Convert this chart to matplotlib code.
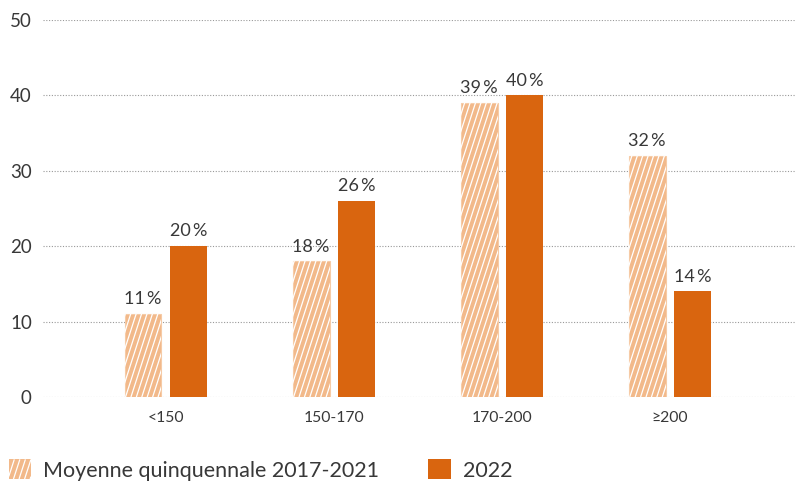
import matplotlib
matplotlib.use("Agg")
import matplotlib.pyplot as plt
import numpy as np
from matplotlib.patches import Rectangle, Patch
from matplotlib.collections import LineCollection
from matplotlib.legend_handler import HandlerBase

plt.rcParams['font.family'] = ['Lato', 'DejaVu Sans']

categories = ["<150", "150-170", "170-200", "≥200"]
moyenne = [11, 18, 39, 32]
v2022 = [20, 26, 40, 14]
labels_moy = ["11\u2009%", "18\u2009%", "39\u2009%", "32\u2009%"]
labels_2022 = ["20\u2009%", "26\u2009%", "40\u2009%", "14\u2009%"]
series_names = ["Moyenne quinquennale 2017-2021", "2022"]

light = "#F2B98A"
dark = "#D9650F"
txt = "#383838"

fig = plt.figure(figsize=(7.96, 4.86), dpi=100)
ax = fig.add_axes([0.054, 0.183, 0.946, 0.776])

x = np.arange(len(categories))
w = 0.22
off = 0.135
b1 = ax.bar(x - off, moyenne, w, color=light, edgecolor="#F6CBA6", linewidth=0.8, zorder=3)
b2 = ax.bar(x + off, v2022, w, color=dark, linewidth=0, zorder=3)

# steep white hatching clipped to each light bar
slope = 0.162  # axes-fraction dx per full axes height (~72 deg)
step = 0.0072
segs = [[(x0, 0), (x0 + slope, 1)] for x0 in np.arange(-0.2, 1.0, step)]
for rect in b1:
    lc = LineCollection(segs, colors="white", linewidths=0.9, transform=ax.transAxes, zorder=4)
    ax.add_collection(lc, autolim=False)
    lc.set_clip_path(rect)

for xi, v, l in zip(x - off, moyenne, labels_moy):
    ax.text(xi, v + 0.9, l, ha="center", va="bottom", fontsize=13, color=txt)
for xi, v, l in zip(x + off, v2022, labels_2022):
    ax.text(xi, v + 0.9, l, ha="center", va="bottom", fontsize=13, color=txt)

ax.set_xlim(-0.73, 3.75)
ax.set_ylim(0, 50)
ax.set_yticks([0, 10, 20, 30, 40, 50])
ax.set_xticks(x)
ax.set_xticklabels(categories)
ax.tick_params(axis="y", length=0, pad=8, labelsize=13.5, labelcolor=txt)
ax.tick_params(axis="x", length=0, pad=10, labelsize=11.3, labelcolor=txt)
ax.yaxis.grid(True, linestyle=(0, (1, 1.5)), color="#999999", linewidth=0.8, zorder=0)
for s in ax.spines.values():
    s.set_visible(False)


class HatchedPatch(Patch):
    pass


class HatchHandler(HandlerBase):
    def create_artists(self, legend, orig, xdescent, ydescent, width, height, fontsize, trans):
        r = Rectangle((-xdescent, -ydescent), width, height, facecolor=light,
                      linewidth=0, transform=trans)
        k = 0.325
        x0, y0 = -xdescent, -ydescent
        lsegs = []
        for xx in np.arange(x0 - height * k, x0 + width, 4.0):
            # clip segment analytically to the handle box
            xa, ya = xx, y0
            xb, yb = xx + k * height, y0 + height
            if xa < x0:
                ya = y0 + (x0 - xa) / k
                xa = x0
            if xb > x0 + width:
                yb = y0 + (x0 + width - xx) / k
                xb = x0 + width
            if xa < xb:
                lsegs.append([(xa, ya), (xb, yb)])
        lc = LineCollection(lsegs, colors="white", linewidths=0.9, transform=trans)
        return [r, lc]


handles = [HatchedPatch(facecolor=light), Patch(facecolor=dark, linewidth=0)]
fig.legend(handles, series_names, loc="center left", bbox_to_anchor=(0.011, 0.033), ncol=2,
           frameon=False, fontsize=15.5, handlelength=1.03, handleheight=1.03,
           handletextpad=0.56, columnspacing=2.3, labelcolor=txt, borderpad=0,
           borderaxespad=0, handler_map={HatchedPatch: HatchHandler()})

fig.savefig("out.png", dpi=100)
